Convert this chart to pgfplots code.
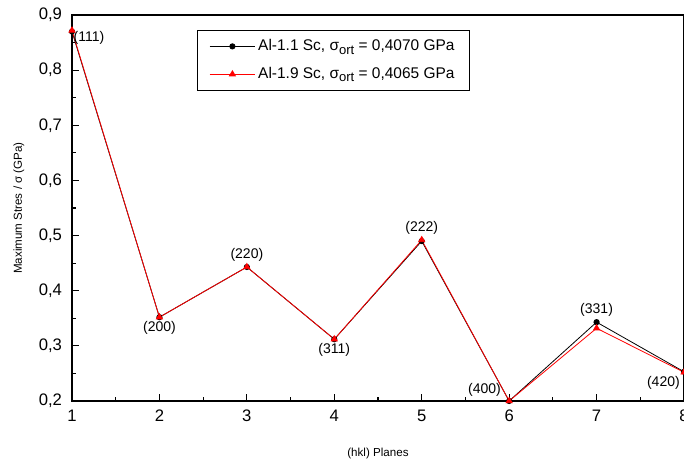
\documentclass[border=0pt]{standalone}
\usepackage{fontspec}
\setmainfont{Liberation Sans}
\usepackage{pgfplots}
\pgfplotsset{compat=1.18}

\begin{document}
\begin{tikzpicture}[trim axis right]
\begin{axis}[
  scale only axis,
  width=459pt, height=289.5pt,
  xmin=1, xmax=8, ymin=0.2, ymax=0.9,
  xtick={1,...,8}, ytick={0.2,0.3,...,0.9},
  minor x tick num=1, minor y tick num=1,
  tick align=inside, xtick pos=left, ytick pos=left,
  major tick length=5pt, minor tick length=3pt,
  tick style={black, line width=0.8pt},
  axis line style={line width=0.9pt},
  /pgf/number format/assume math mode=true,
  ticklabel style={font=\fontsize{12.5}{14}\selectfont},
  yticklabel style={xshift=-4pt, /pgf/number format/fixed, /pgf/number format/fixed zerofill,
    /pgf/number format/precision=1, /pgf/number format/use comma},
  xticklabel style={yshift=-3pt},
  xlabel={(hkl) Planes}, ylabel={Maximum Stres / σ (GPa)},
  label style={font=\fontsize{8.7}{10}\selectfont},
  xlabel style={yshift=-13pt},
  ylabel style={yshift=4pt},
  legend style={at={(0.204,0.961)}, anchor=north west, font=\fontsize{11.6}{13}\selectfont,
    draw=black, line width=0.6pt, inner xsep=9pt, inner ysep=5pt, row sep=7pt},
  legend cell align=left,
  legend image code/.code={
    \draw[mark repeat=2, mark phase=2] plot coordinates {(0cm,0cm) (0.6cm,0cm) (1.2cm,0cm)};
  },
  legend image post style={line width=0.6pt},
  clip=false,
]
% Al-1.1 Sc
\addplot[black, line width=0.6pt, mark=*, mark size=2pt] coordinates {
  (1,0.870) (2,0.352) (3,0.443) (4,0.312) (5,0.490) (6,0.200) (7,0.343) (8,0.253)
};
\addlegendentry{Al-1.1 Sc, σ{\fontsize{9.8}{10}\selectfont\raisebox{-0.45ex}{ort}} = 0,4070 GPa}
% Al-1.9 Sc
\addplot[red, line width=0.6pt, mark=triangle*, mark size=2.6pt] coordinates {
  (1,0.872) (2,0.352) (3,0.443) (4,0.312) (5,0.492) (6,0.200) (7,0.332) (8,0.252)
};
\addlegendentry{Al-1.9 Sc, σ{\fontsize{9.8}{10}\selectfont\raisebox{-0.45ex}{ort}} = 0,4065 GPa}

\begin{scope}[every node/.style={font=\fontsize{10.5}{12}\selectfont, inner sep=1pt}]
\node[anchor=north west] at (axis cs:1,0.873) {(111)};
\node[anchor=north, yshift=-2pt] at (axis cs:2,0.352) {(200)};
\node[anchor=south, yshift=3pt] at (axis cs:3,0.443) {(220)};
\node[anchor=north, yshift=-2pt] at (axis cs:4,0.312) {(311)};
\node[anchor=south, yshift=3pt] at (axis cs:5,0.492) {(222)};
\node[anchor=south east, xshift=-5pt, yshift=2pt] at (axis cs:6,0.2) {(400)};
\node[anchor=south, yshift=3pt] at (axis cs:7,0.343) {(331)};
\node[anchor=north east, xshift=-2pt, yshift=-2pt] at (axis cs:8,0.252) {(420)};
\end{scope}
\path (rel axis cs:0,0) ++(-54pt,0pt);
\path (rel axis cs:0,1) ++(0pt,11.25pt);
\end{axis}
\end{tikzpicture}
\end{document}
